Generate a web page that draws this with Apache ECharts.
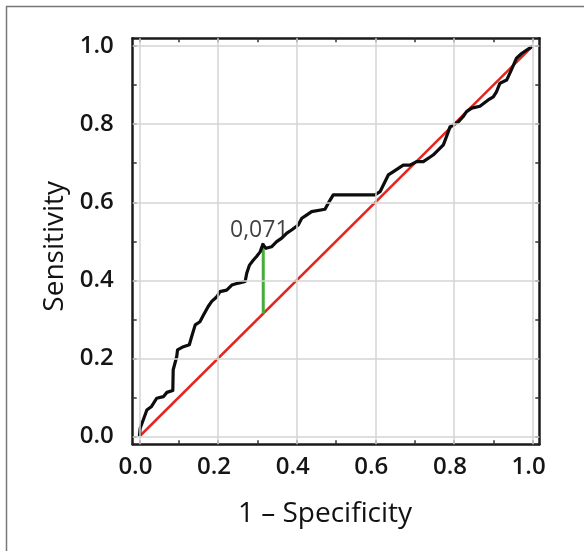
<!DOCTYPE html>
<html>
<head>
<meta charset="utf-8">
<script src="https://cdn.jsdelivr.net/npm/echarts@6.0.0/dist/echarts.min.js"></script>
<style>html,body{margin:0;padding:0;background:#fff;}#chart{width:584px;height:551px;}</style>
</head>
<body>
<div id="chart"></div>
<script>
// ROC curve points
const fpr = [0,0.002,0.010,0.019,0.031,0.044,0.061,0.070,0.085,0.086,0.095,0.097,0.112,0.127,0.133,0.142,0.154,0.163,0.175,0.184,0.197,0.205,0.222,0.235,0.252,0.269,0.273,0.280,0.290,0.298,0.307,0.314,0.322,0.336,0.349,0.362,0.375,0.387,0.404,0.413,0.425,0.438,0.472,0.480,0.493,0.599,0.612,0.633,0.645,0.671,0.688,0.705,0.722,0.747,0.773,0.781,0.790,0.811,0.823,0.832,0.845,0.866,0.887,0.900,0.908,0.917,0.934,0.946,0.959,0.972,0.985,1.0];
const tpr = [0,0.021,0.043,0.068,0.077,0.098,0.102,0.113,0.118,0.171,0.205,0.222,0.230,0.235,0.256,0.286,0.294,0.311,0.333,0.346,0.358,0.371,0.375,0.388,0.393,0.397,0.418,0.439,0.452,0.461,0.473,0.492,0.482,0.486,0.499,0.508,0.521,0.529,0.542,0.559,0.567,0.576,0.582,0.597,0.619,0.619,0.627,0.670,0.678,0.695,0.695,0.704,0.704,0.721,0.747,0.768,0.793,0.806,0.819,0.832,0.841,0.846,0.862,0.870,0.883,0.905,0.913,0.939,0.969,0.981,0.990,1.0];
const diagX = [0, 1];
const diagY = [0, 1];
const cutX = [0.315, 0.315];
const cutY = [0.315, 0.495];
const cutLabel = '0,071';
const majorTicks = [0, 0.2, 0.4, 0.6, 0.8, 1.0];
const minorTicks = [0, 0.1, 0.2, 0.3, 0.4, 0.5, 0.6, 0.7, 0.8, 0.9, 1.0];
const xTitle = '1 \u2013 Specificity';
const yTitle = 'Sensitivity';

const zip = (a, b) => a.map((v, i) => [v, b[i]]);
const frame = { show: true, onZero: false, lineStyle: { color: '#1a1a1a', width: 2.5 } };
const tick = { show: true, inside: true, length: 4, customValues: minorTicks, lineStyle: { color: '#333', width: 1.5 } };
const labelStyle = { fontSize: 24, fontWeight: 600, fontFamily: 'Open Sans', color: '#151515' };
const nameStyle = { fontSize: 28, fontFamily: 'Open Sans', color: '#111' };

const chart = echarts.init(document.getElementById('chart'), null, { renderer: 'canvas' });
chart.setOption({
  animation: false,
  backgroundColor: '#fff',
  grid: { left: 132.7, right: 44.7, top: 38.3, bottom: 106.7, outerBoundsMode: 'none' },
  xAxis: [
    { type: 'value', position: 'bottom', min: -0.017, max: 1.017,
      axisLine: frame, axisTick: tick, splitLine: { show: false },
      axisLabel: Object.assign({ customValues: majorTicks, margin: 11, padding: [0, 8, 0, 0], formatter: v => v.toFixed(1) }, labelStyle),
      name: xTitle, nameLocation: 'middle', nameGap: 56,
      nameTextStyle: Object.assign({ padding: [0, 22, 0, 0] }, nameStyle) },
    { type: 'value', position: 'top', min: -0.017, max: 1.017,
      axisLine: frame, axisTick: tick, splitLine: { show: false }, axisLabel: { show: false } }
  ],
  yAxis: [
    { type: 'value', position: 'left', min: -0.02, max: 1.02,
      axisLine: frame, axisTick: tick, splitLine: { show: false },
      axisLabel: Object.assign({ customValues: majorTicks, margin: 19, padding: [6, 0, 0, 0], formatter: v => v.toFixed(1) }, labelStyle),
      name: yTitle, nameLocation: 'middle', nameGap: 64,
      nameTextStyle: Object.assign({ padding: [0, 10, 0, 0] }, nameStyle) },
    { type: 'value', position: 'right', min: -0.02, max: 1.02,
      axisLine: frame, axisTick: tick, splitLine: { show: false }, axisLabel: { show: false } }
  ],
  graphic: [
    { type: 'line', shape: { x1: 6, y1: 6.5, x2: 584, y2: 6.5 }, style: { stroke: '#777', lineWidth: 1.5 } },
    { type: 'line', shape: { x1: 6.5, y1: 6, x2: 6.5, y2: 551 }, style: { stroke: '#777', lineWidth: 1.5 } }
  ],
  series: [
    { type: 'line', name: 'grid', data: [], z: 1, silent: true,
      markLine: { symbol: 'none', silent: true, label: { show: false }, animation: false,
        lineStyle: { color: '#d4d4d4', width: 1.5, type: 'solid' },
        data: majorTicks.map(v => ({ xAxis: v })).concat(majorTicks.map(v => ({ yAxis: v }))) } },
    { type: 'line', name: 'diag', data: zip(diagX, diagY), showSymbol: false, symbol: 'none', z: 3,
      lineStyle: { color: '#e3261f', width: 2.5 } },
    { type: 'line', name: 'cut', data: zip(cutX, cutY), showSymbol: false, symbol: 'none', z: 3,
      lineStyle: { color: '#46ad3b', width: 3 } },
    { type: 'scatter', name: 'cutlabel', data: [[cutX[1], cutY[1]]], symbolSize: 1, z: 2,
      itemStyle: { color: 'rgba(0,0,0,0)' },
      label: { show: true, position: 'top', distance: 1, offset: [-4, 0], formatter: cutLabel,
        fontSize: 23, fontFamily: 'Open Sans', color: '#111' } },
    { type: 'line', name: 'roc', data: zip(fpr, tpr), showSymbol: false, symbol: 'none', z: 4,
      lineStyle: { color: '#0d0d0d', width: 3.2, join: 'round' } }
  ]
});
</script>
</body>
</html>
